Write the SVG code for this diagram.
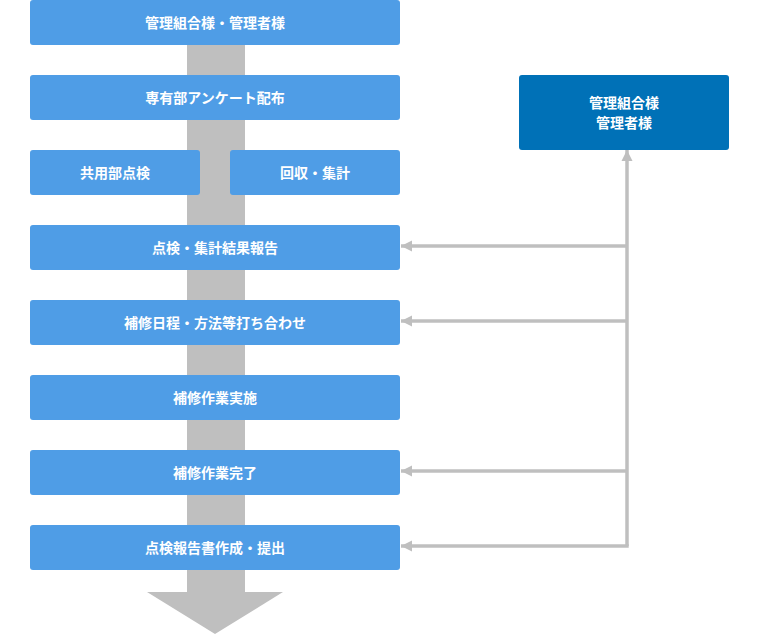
<svg xmlns="http://www.w3.org/2000/svg" width="760" height="636" viewBox="0 0 760 636">
<defs>
<style>
.box{fill:#4f9de6;}
.dark{fill:#0071b7;}
.t{fill:#fff;font-family:"Noto Sans CJK JP","Noto Sans CJK SC",sans-serif;font-size:14px;font-weight:bold;text-anchor:middle;dominant-baseline:central;}
.ln{stroke:#bfbfbf;stroke-width:3.5;fill:none;}
</style>
<marker id="ah" viewBox="0 0 10 10" refX="10" refY="5" markerWidth="3.2" markerHeight="3.4" orient="auto" markerUnits="strokeWidth">
<path d="M0,0 L10,5 L0,10 Z" fill="#bfbfbf"/>
</marker>
</defs>
<rect width="760" height="636" fill="#fff"/>
<g id="flow-arrow">
<rect x="187" y="40" width="58" height="555" fill="#bfbfbf"/>
<polygon points="147,592 283,592 215,634" fill="#bfbfbf"/>
</g>
<g id="connectors">
<path class="ln" d="M627,546 L627,150" marker-end="url(#ah)"/>
<path class="ln" d="M627,246 L401,246" marker-end="url(#ah)"/>
<path class="ln" d="M627,321 L401,321" marker-end="url(#ah)"/>
<path class="ln" d="M627,471 L401,471" marker-end="url(#ah)"/>
<path class="ln" d="M628.7,546 L401,546" marker-end="url(#ah)"/>
</g>
<g id="n1"><rect class="box" x="30" y="0" width="370" height="45" rx="3"/><text class="t" x="215" y="21.5">管理組合様・管理者様</text></g>
<g id="n2"><rect class="box" x="30" y="75" width="370" height="45" rx="3"/><text class="t" x="215" y="96.5">専有部アンケート配布</text></g>
<g id="n3a"><rect class="box" x="30" y="150" width="170" height="45" rx="3"/><text class="t" x="115" y="171.5">共用部点検</text></g>
<g id="n3b"><rect class="box" x="230" y="150" width="170" height="45" rx="3"/><text class="t" x="315" y="171.5">回収・集計</text></g>
<g id="n4"><rect class="box" x="30" y="225" width="370" height="45" rx="3"/><text class="t" x="215" y="246.5">点検・集計結果報告</text></g>
<g id="n5"><rect class="box" x="30" y="300" width="370" height="45" rx="3"/><text class="t" x="215" y="321.5">補修日程・方法等打ち合わせ</text></g>
<g id="n6"><rect class="box" x="30" y="375" width="370" height="45" rx="3"/><text class="t" x="215" y="396.5">補修作業実施</text></g>
<g id="n7"><rect class="box" x="30" y="450" width="370" height="45" rx="3"/><text class="t" x="215" y="471.5">補修作業完了</text></g>
<g id="n8"><rect class="box" x="30" y="525" width="370" height="45" rx="3"/><text class="t" x="215" y="546.5">点検報告書作成・提出</text></g>
<g id="owner"><rect class="dark" x="519" y="75" width="210" height="75" rx="3"/><text class="t" x="624" y="101.5">管理組合様</text><text class="t" x="624" y="121.5">管理者様</text></g>
</svg>
